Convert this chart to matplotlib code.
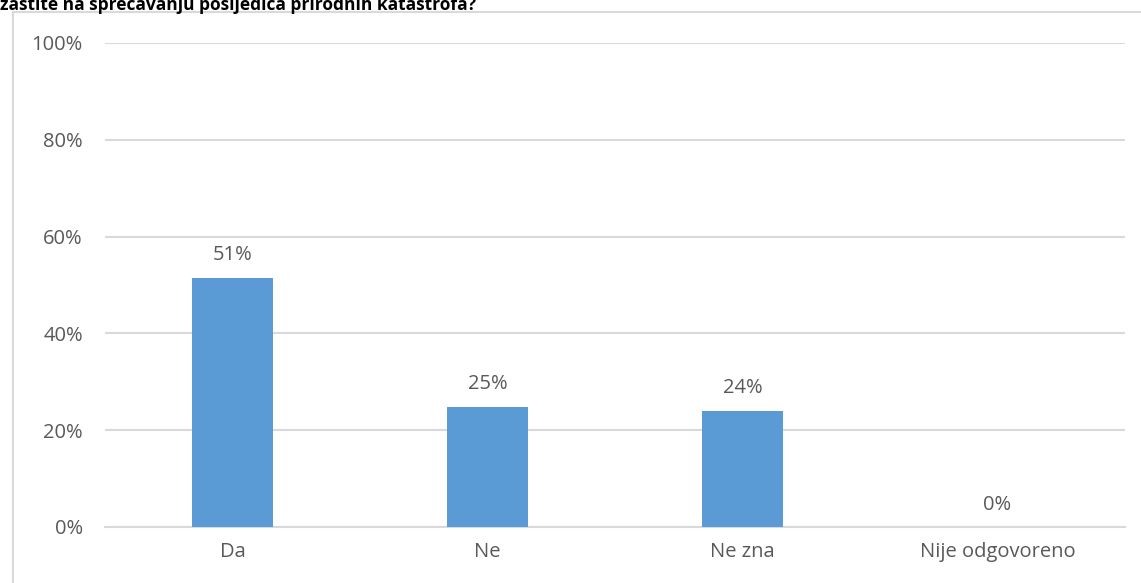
import matplotlib.pyplot as plt
from matplotlib.patches import Rectangle
from matplotlib.ticker import PercentFormatter

categories = ["Da", "Ne", "Ne zna", "Nije odgovoreno"]
values = [51.5, 24.8, 24.0, 0.0]
labels = ["51%", "25%", "24%", "0%"]
title = "zaštite na sprečavanju posljedica prirodnih katastrofa?"

plt.rcParams['font.family'] = ['Open Sans', 'DejaVu Sans']
text_color = '#595959'
grid_color = '#D9D9D9'

fig = plt.figure(figsize=(11.41, 5.83), dpi=100)

# outer chart frame (cut at bottom/right like the screenshot)
fig.patches.append(Rectangle((13 / 1141, -0.1), 1.2, 1.1 - 12 / 583, transform=fig.transFigure,
                             fill=False, edgecolor=grid_color, linewidth=1.5))

# title is cropped at the top in the source screenshot
fig.text(0.0, 1 - 10 / 583, title, fontsize=12.5, fontweight='bold', color='black',
         ha='left', va='baseline')

ax = fig.add_axes([105 / 1141, 1 - 527 / 583, 1020 / 1141, 484 / 583])
x = range(len(categories))
bars = ax.bar(x, values, width=0.314, color='#5B9BD5', zorder=3)
ax.bar_label(bars, labels=labels, padding=9, fontsize=14.5, color=text_color)

ax.set_xlim(-0.5, len(categories) - 0.5)
ax.set_ylim(0, 100)
ax.set_yticks([0, 20, 40, 60, 80, 100])
ax.yaxis.set_major_formatter(PercentFormatter(decimals=0))
ax.set_xticks(list(x))
ax.set_xticklabels(categories)
ax.tick_params(axis='both', length=0, labelsize=14.5, labelcolor=text_color)
ax.tick_params(axis='y', pad=16)
ax.tick_params(axis='x', pad=11)
ax.grid(axis='y', color=grid_color, linewidth=1.5, zorder=0)
for s in ['top', 'right', 'left']:
    ax.spines[s].set_visible(False)
ax.spines['bottom'].set_color(grid_color)
ax.spines['bottom'].set_linewidth(1.5)

fig.savefig('out.png', dpi=100)
